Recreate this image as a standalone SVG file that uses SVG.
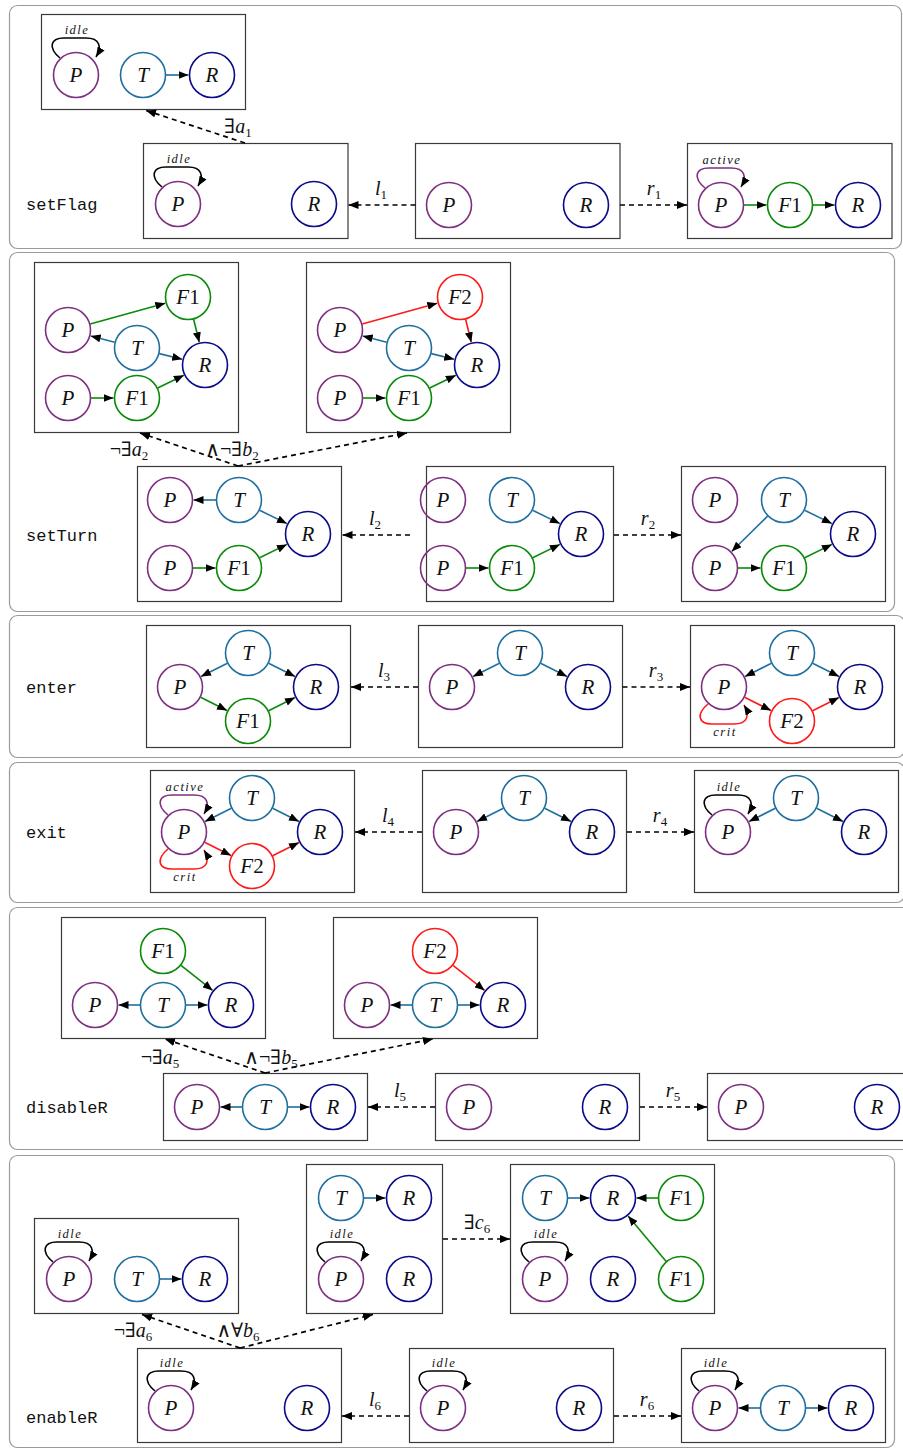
<svg xmlns="http://www.w3.org/2000/svg" width="903" height="1450" viewBox="0 0 903 1450">
<defs>
<marker id="a" viewBox="0 0 10 8" refX="10" refY="4" markerWidth="10" markerHeight="8" markerUnits="userSpaceOnUse" orient="auto"><path d="M0,0 L10,4 L0,8 z" fill="#000"/></marker>
<style>
.sec{fill:none;stroke:#9a9a9a;stroke-width:1.2}
.box{fill:none;stroke:#3a3a3a;stroke-width:1.2}
circle{fill:none;stroke-width:1.6}
.p{stroke:#7e2f80}.t{stroke:#1f6fa0}.r{stroke:#0a0a8a}.g{stroke:#0a8a0a}.f2{stroke:#ff1a1a}
.nl{font-family:"Liberation Serif","DejaVu Serif",serif;font-style:italic;font-size:21px;text-anchor:middle;fill:#111}
.up{font-style:normal}
.e{fill:none;stroke-width:1.6;marker-end:url(#a)}
.eb{stroke:#1f6fa0}.eg{stroke:#0a8a0a}.er{stroke:#ff1a1a}.ek{stroke:#000}.ep{stroke:#7e2f80}
.d{fill:none;stroke:#000;stroke-width:1.7;stroke-dasharray:5 4;marker-end:url(#a)}
.lab{font-family:"Liberation Serif","DejaVu Serif",serif;font-size:20px;fill:#111;text-anchor:middle}
.it{font-style:italic}
.sub{font-size:13px}
.st{font-family:"Liberation Serif","DejaVu Serif",serif;font-style:italic;font-size:12.5px;letter-spacing:1.5px;text-anchor:middle;fill:#111}
.mono{font-family:"Liberation Mono","DejaVu Sans Mono",monospace;font-size:17px;fill:#111}
</style>
</defs>

<!-- ===== Section 1: setFlag ===== -->
<rect class="sec" x="9.5" y="5.5" width="892" height="243" rx="8"/>
<text class="mono" x="26" y="210">setFlag</text>
<g id="sf-ac">
<rect class="box" x="41.5" y="14.5" width="204" height="95"/>
<path class="e ek" d="M60,58 C48,48 50,38 64,38 L86,38 C100,38 102,47 96,57"/>
<text class="st" x="77" y="34">idle</text>
<circle class="p" cx="76" cy="75" r="22.5"/><text class="nl" x="76" y="82">P</text>
<circle class="t" cx="143" cy="75" r="22.5"/><text class="nl" x="143" y="82">T</text>
<circle class="r" cx="212" cy="75" r="22.5"/><text class="nl" x="212" y="82">R</text>
<path class="e eb" d="M166,75 L188.5,75"/>
</g>
<g id="sf-l">
<rect class="box" x="143.5" y="143.5" width="204.5" height="95"/>
<path class="e ek" d="M162,187 C150,177 152,167 166,167 L188,167 C202,167 204,176 198,186"/>
<text class="st" x="179" y="163">idle</text>
<circle class="p" cx="178" cy="204" r="22.5"/><text class="nl" x="178" y="211">P</text>
<circle class="r" cx="314" cy="204" r="22.5"/><text class="nl" x="314" y="211">R</text>
</g>
<g id="sf-k">
<rect class="box" x="415.5" y="143.5" width="204.5" height="95"/>
<circle class="p" cx="449" cy="205" r="22.5"/><text class="nl" x="449" y="212">P</text>
<circle class="r" cx="586" cy="205" r="22.5"/><text class="nl" x="586" y="212">R</text>
</g>
<g id="sf-r">
<rect class="box" x="687.5" y="143.5" width="204.5" height="95"/>
<path class="e ep" d="M705,188 C693,178 695,168 709,168 L731,168 C745,168 747,177 741,187"/>
<text class="st" x="722" y="164">active</text>
<circle class="p" cx="721" cy="205" r="22.5"/><text class="nl" x="721" y="212">P</text>
<circle class="g" cx="790" cy="205" r="22.5"/><text class="nl" x="790" y="212">F<tspan class="up">1</tspan></text>
<circle class="r" cx="858" cy="205" r="22.5"/><text class="nl" x="858" y="212">R</text>
<path class="e eg" d="M744,205 L766.5,205"/>
<path class="e eg" d="M813,205 L834.5,205"/>
</g>

<!-- ===== Section 2: setTurn ===== -->
<rect class="sec" x="9.5" y="252.5" width="885" height="359" rx="8"/>
<text class="mono" x="26" y="541">setTurn</text>
<g id="st-a">
<rect class="box" x="34.5" y="262.5" width="204" height="170"/>
<circle class="p" cx="68" cy="330" r="22.5"/><text class="nl" x="68" y="337">P</text>
<circle class="g" cx="188" cy="297" r="22.5"/><text class="nl" x="188" y="304">F<tspan class="up">1</tspan></text>
<circle class="t" cx="137" cy="348" r="22.5"/><text class="nl" x="137" y="355">T</text>
<circle class="r" cx="205" cy="365" r="22.5"/><text class="nl" x="205" y="372">R</text>
<circle class="p" cx="68" cy="398" r="22.5"/><text class="nl" x="68" y="405">P</text>
<circle class="g" cx="137" cy="398" r="22.5"/><text class="nl" x="137" y="405">F<tspan class="up">1</tspan></text>
<path class="e eg" d="M90.2,323.9 L165.3,303.2"/>
<path class="e eg" d="M193.6,319.3 L199.3,342.2"/>
<path class="e eb" d="M114.7,342.2 L90.7,335.9"/>
<path class="e eb" d="M159.3,353.6 L182.2,359.3"/>
<path class="e eg" d="M91,398 L113.5,398"/>
<path class="e eg" d="M157.7,388 L183.9,375.2"/>
</g>
<g id="st-b" transform="translate(272,0)">
<rect class="box" x="34.5" y="262.5" width="204" height="170"/>
<circle class="p" cx="68" cy="330" r="22.5"/><text class="nl" x="68" y="337">P</text>
<circle class="f2" cx="188" cy="297" r="22.5"/><text class="nl" x="188" y="304">F<tspan class="up">2</tspan></text>
<circle class="t" cx="137" cy="348" r="22.5"/><text class="nl" x="137" y="355">T</text>
<circle class="r" cx="205" cy="365" r="22.5"/><text class="nl" x="205" y="372">R</text>
<circle class="p" cx="68" cy="398" r="22.5"/><text class="nl" x="68" y="405">P</text>
<circle class="g" cx="137" cy="398" r="22.5"/><text class="nl" x="137" y="405">F<tspan class="up">1</tspan></text>
<path class="e er" d="M90.2,323.9 L165.3,303.2"/>
<path class="e er" d="M193.6,319.3 L199.3,342.2"/>
<path class="e eb" d="M114.7,342.2 L90.7,335.9"/>
<path class="e eb" d="M159.3,353.6 L182.2,359.3"/>
<path class="e eg" d="M91,398 L113.5,398"/>
<path class="e eg" d="M157.7,388 L183.9,375.2"/>
</g>
<g id="st-l">
<rect class="box" x="137.5" y="466.5" width="204" height="135"/>
<circle class="p" cx="170" cy="500" r="22.5"/><text class="nl" x="170" y="507">P</text>
<circle class="t" cx="239" cy="500" r="22.5"/><text class="nl" x="239" y="507">T</text>
<circle class="r" cx="308" cy="534" r="22.5"/><text class="nl" x="308" y="541">R</text>
<circle class="p" cx="170" cy="568" r="22.5"/><text class="nl" x="170" y="575">P</text>
<circle class="g" cx="239" cy="568" r="22.5"/><text class="nl" x="239" y="575">F<tspan class="up">1</tspan></text>
<path class="e eb" d="M216,500 L193.5,500"/>
<path class="e eb" d="M259.6,510.2 L286.9,523.6"/>
<path class="e eg" d="M193,568 L215.5,568"/>
<path class="e eg" d="M259.6,557.8 L286.9,544.4"/>
</g>
<g id="st-k">
<rect class="box" x="426.5" y="466.5" width="187" height="135"/>
<g transform="translate(273,0)">
<circle class="p" cx="170" cy="500" r="22.5"/><text class="nl" x="170" y="507">P</text>
<circle class="t" cx="239" cy="500" r="22.5"/><text class="nl" x="239" y="507">T</text>
<circle class="r" cx="308" cy="534" r="22.5"/><text class="nl" x="308" y="541">R</text>
<circle class="p" cx="170" cy="568" r="22.5"/><text class="nl" x="170" y="575">P</text>
<circle class="g" cx="239" cy="568" r="22.5"/><text class="nl" x="239" y="575">F<tspan class="up">1</tspan></text>
<path class="e eb" d="M259.6,510.2 L286.9,523.6"/>
<path class="e eg" d="M193,568 L215.5,568"/>
<path class="e eg" d="M259.6,557.8 L286.9,544.4"/>
</g>
</g>
<g id="st-r">
<rect class="box" x="681.5" y="466.5" width="204" height="135"/>
<g transform="translate(545,0)">
<circle class="p" cx="170" cy="500" r="22.5"/><text class="nl" x="170" y="507">P</text>
<circle class="t" cx="239" cy="500" r="22.5"/><text class="nl" x="239" y="507">T</text>
<circle class="r" cx="308" cy="534" r="22.5"/><text class="nl" x="308" y="541">R</text>
<circle class="p" cx="170" cy="568" r="22.5"/><text class="nl" x="170" y="575">P</text>
<circle class="g" cx="239" cy="568" r="22.5"/><text class="nl" x="239" y="575">F<tspan class="up">1</tspan></text>
<path class="e eb" d="M259.6,510.2 L286.9,523.6"/>
<path class="e eb" d="M222.6,516.1 L186.7,551.5"/>
<path class="e eg" d="M193,568 L215.5,568"/>
<path class="e eg" d="M259.6,557.8 L286.9,544.4"/>
</g>
</g>

<!-- ===== Section 3: enter ===== -->
<rect class="sec" x="9.5" y="615.5" width="895" height="142" rx="8"/>
<text class="mono" x="26" y="693">enter</text>
<g id="en-l">
<rect class="box" x="146.5" y="625.5" width="204" height="122"/>
<circle class="t" cx="248" cy="653" r="22.5"/><text class="nl" x="248" y="660">T</text>
<circle class="p" cx="180" cy="687" r="22.5"/><text class="nl" x="180" y="694">P</text>
<circle class="r" cx="316" cy="687" r="22.5"/><text class="nl" x="316" y="694">R</text>
<circle class="g" cx="248" cy="721" r="22.5"/><text class="nl" x="248" y="728">F<tspan class="up">1</tspan></text>
<path class="e eb" d="M227.4,663.3 L201,676.5"/>
<path class="e eb" d="M268.6,663.3 L295,676.5"/>
<path class="e eg" d="M200.6,697.3 L227,710.5"/>
<path class="e eg" d="M268.6,710.7 L295,697.5"/>
</g>
<g id="en-k">
<rect class="box" x="418.5" y="625.5" width="204" height="122"/>
<g transform="translate(272,0)">
<circle class="t" cx="248" cy="653" r="22.5"/><text class="nl" x="248" y="660">T</text>
<circle class="p" cx="180" cy="687" r="22.5"/><text class="nl" x="180" y="694">P</text>
<circle class="r" cx="316" cy="687" r="22.5"/><text class="nl" x="316" y="694">R</text>
<path class="e eb" d="M227.4,663.3 L201,676.5"/>
<path class="e eb" d="M268.6,663.3 L295,676.5"/>
</g>
</g>
<g id="en-r">
<rect class="box" x="690.5" y="625.5" width="204" height="122"/>
<g transform="translate(544,0)">
<circle class="t" cx="248" cy="653" r="22.5"/><text class="nl" x="248" y="660">T</text>
<circle class="p" cx="180" cy="687" r="22.5"/><text class="nl" x="180" y="694">P</text>
<circle class="r" cx="316" cy="687" r="22.5"/><text class="nl" x="316" y="694">R</text>
<circle class="f2" cx="248" cy="721" r="22.5"/><text class="nl" x="248" y="728">F<tspan class="up">2</tspan></text>
<path class="e eb" d="M227.4,663.3 L201,676.5"/>
<path class="e eb" d="M268.6,663.3 L295,676.5"/>
<path class="e er" d="M200.6,697.3 L227,710.5"/>
<path class="e er" d="M268.6,710.7 L295,697.5"/>
<path class="e er" d="M164,704 C152,714 154,724 168,724 L190,724 C204,724 206,715 200,705"/>
<text class="st" x="181" y="736">crit</text>
</g>
</g>

<!-- ===== Section 4: exit ===== -->
<rect class="sec" x="9.5" y="762.5" width="895" height="140" rx="8"/>
<text class="mono" x="26" y="838">exit</text>
<g id="ex-l" transform="translate(4,145)">
<rect class="box" x="146.5" y="625.5" width="204" height="122"/>
<circle class="t" cx="248" cy="653" r="22.5"/><text class="nl" x="248" y="660">T</text>
<circle class="p" cx="180" cy="687" r="22.5"/><text class="nl" x="180" y="694">P</text>
<circle class="r" cx="316" cy="687" r="22.5"/><text class="nl" x="316" y="694">R</text>
<circle class="f2" cx="248" cy="721" r="22.5"/><text class="nl" x="248" y="728">F<tspan class="up">2</tspan></text>
<path class="e eb" d="M227.4,663.3 L201,676.5"/>
<path class="e eb" d="M268.6,663.3 L295,676.5"/>
<path class="e er" d="M200.6,697.3 L227,710.5"/>
<path class="e er" d="M268.6,710.7 L295,697.5"/>
<path class="e ep" d="M164,670 C152,660 154,650 168,650 L190,650 C204,650 206,659 200,669"/>
<text class="st" x="181" y="646">active</text>
<path class="e er" d="M164,704 C152,714 154,724 168,724 L190,724 C204,724 206,715 200,705"/>
<text class="st" x="181" y="736">crit</text>
</g>
<g id="ex-k" transform="translate(276,145)">
<rect class="box" x="146.5" y="625.5" width="204" height="122"/>
<circle class="t" cx="248" cy="653" r="22.5"/><text class="nl" x="248" y="660">T</text>
<circle class="p" cx="180" cy="687" r="22.5"/><text class="nl" x="180" y="694">P</text>
<circle class="r" cx="316" cy="687" r="22.5"/><text class="nl" x="316" y="694">R</text>
<path class="e eb" d="M227.4,663.3 L201,676.5"/>
<path class="e eb" d="M268.6,663.3 L295,676.5"/>
</g>
<g id="ex-r" transform="translate(548,145)">
<rect class="box" x="146.5" y="625.5" width="204" height="122"/>
<circle class="t" cx="248" cy="653" r="22.5"/><text class="nl" x="248" y="660">T</text>
<circle class="p" cx="180" cy="687" r="22.5"/><text class="nl" x="180" y="694">P</text>
<circle class="r" cx="316" cy="687" r="22.5"/><text class="nl" x="316" y="694">R</text>
<path class="e eb" d="M227.4,663.3 L201,676.5"/>
<path class="e eb" d="M268.6,663.3 L295,676.5"/>
<path class="e ek" d="M164,670 C152,660 154,650 168,650 L190,650 C204,650 206,659 200,669"/>
<text class="st" x="181" y="646">idle</text>
</g>

<!-- ===== Section 5: disableR ===== -->
<rect class="sec" x="9.5" y="907.5" width="905" height="242" rx="8"/>
<text class="mono" x="26" y="1113">disableR</text>
<g id="dr-a">
<rect class="box" x="61.5" y="917.5" width="204" height="121"/>
<circle class="g" cx="163" cy="951" r="22.5"/><text class="nl" x="163" y="958">F<tspan class="up">1</tspan></text>
<circle class="p" cx="95" cy="1005" r="22.5"/><text class="nl" x="95" y="1012">P</text>
<circle class="t" cx="163" cy="1005" r="22.5"/><text class="nl" x="163" y="1012">T</text>
<circle class="r" cx="231" cy="1005" r="22.5"/><text class="nl" x="231" y="1012">R</text>
<path class="e eg" d="M181,965.3 L212.6,990.4"/>
<path class="e eb" d="M140,1005 L118.5,1005"/>
<path class="e eb" d="M186,1005 L207.5,1005"/>
</g>
<g id="dr-b" transform="translate(272,0)">
<rect class="box" x="61.5" y="917.5" width="204" height="121"/>
<circle class="f2" cx="163" cy="951" r="22.5"/><text class="nl" x="163" y="958">F<tspan class="up">2</tspan></text>
<circle class="p" cx="95" cy="1005" r="22.5"/><text class="nl" x="95" y="1012">P</text>
<circle class="t" cx="163" cy="1005" r="22.5"/><text class="nl" x="163" y="1012">T</text>
<circle class="r" cx="231" cy="1005" r="22.5"/><text class="nl" x="231" y="1012">R</text>
<path class="e er" d="M181,965.3 L212.6,990.4"/>
<path class="e eb" d="M140,1005 L118.5,1005"/>
<path class="e eb" d="M186,1005 L207.5,1005"/>
</g>
<g id="dr-l">
<rect class="box" x="163.5" y="1073.5" width="204" height="67"/>
<circle class="p" cx="197" cy="1107" r="22.5"/><text class="nl" x="197" y="1114">P</text>
<circle class="t" cx="265" cy="1107" r="22.5"/><text class="nl" x="265" y="1114">T</text>
<circle class="r" cx="333" cy="1107" r="22.5"/><text class="nl" x="333" y="1114">R</text>
<path class="e eb" d="M242,1107 L220.5,1107"/>
<path class="e eb" d="M288,1107 L309.5,1107"/>
</g>
<g id="dr-k">
<rect class="box" x="435.5" y="1073.5" width="204" height="67"/>
<circle class="p" cx="469" cy="1107" r="22.5"/><text class="nl" x="469" y="1114">P</text>
<circle class="r" cx="605" cy="1107" r="22.5"/><text class="nl" x="605" y="1114">R</text>
</g>
<g id="dr-r">
<rect class="box" x="707.5" y="1073.5" width="204" height="67"/>
<circle class="p" cx="741" cy="1107" r="22.5"/><text class="nl" x="741" y="1114">P</text>
<circle class="r" cx="877" cy="1107" r="22.5"/><text class="nl" x="877" y="1114">R</text>
</g>

<!-- ===== Section 6: enableR ===== -->
<rect class="sec" x="9.5" y="1155.5" width="885" height="292" rx="8"/>
<text class="mono" x="26" y="1423">enableR</text>
<g id="er-a">
<rect class="box" x="34.5" y="1218.5" width="204" height="95"/>
<path class="e ek" d="M53,1262 C41,1252 43,1242 57,1242 L79,1242 C93,1242 95,1251 89,1261"/>
<text class="st" x="70" y="1238">idle</text>
<circle class="p" cx="69" cy="1279" r="22.5"/><text class="nl" x="69" y="1286">P</text>
<circle class="t" cx="137" cy="1279" r="22.5"/><text class="nl" x="137" y="1286">T</text>
<circle class="r" cx="205" cy="1279" r="22.5"/><text class="nl" x="205" y="1286">R</text>
<path class="e eb" d="M160,1279 L181.5,1279"/>
</g>
<g id="er-b">
<rect class="box" x="306.5" y="1164.5" width="136" height="149"/>
<circle class="t" cx="341" cy="1198" r="22.5"/><text class="nl" x="341" y="1205">T</text>
<circle class="r" cx="409" cy="1198" r="22.5"/><text class="nl" x="409" y="1205">R</text>
<path class="e eb" d="M364,1198 L385.5,1198"/>
<path class="e ek" d="M325,1262 C313,1252 315,1242 329,1242 L351,1242 C365,1242 367,1251 361,1261"/>
<text class="st" x="342" y="1238">idle</text>
<circle class="p" cx="341" cy="1279" r="22.5"/><text class="nl" x="341" y="1286">P</text>
<circle class="r" cx="409" cy="1279" r="22.5"/><text class="nl" x="409" y="1286">R</text>
</g>
<g id="er-c">
<rect class="box" x="510.5" y="1164.5" width="204" height="149"/>
<circle class="t" cx="545" cy="1198" r="22.5"/><text class="nl" x="545" y="1205">T</text>
<circle class="r" cx="613" cy="1198" r="22.5"/><text class="nl" x="613" y="1205">R</text>
<circle class="g" cx="681" cy="1198" r="22.5"/><text class="nl" x="681" y="1205">F<tspan class="up">1</tspan></text>
<path class="e ek" d="M529,1262 C517,1252 519,1242 533,1242 L555,1242 C569,1242 571,1251 565,1261"/>
<text class="st" x="546" y="1238">idle</text>
<circle class="p" cx="545" cy="1279" r="22.5"/><text class="nl" x="545" y="1286">P</text>
<circle class="r" cx="613" cy="1279" r="22.5"/><text class="nl" x="613" y="1286">R</text>
<circle class="g" cx="681" cy="1279" r="22.5"/><text class="nl" x="681" y="1286">F<tspan class="up">1</tspan></text>
<path class="e eb" d="M568,1198 L589.5,1198"/>
<path class="e eg" d="M658,1198 L636.5,1198"/>
<path class="e eg" d="M666.2,1261.4 L628.1,1216"/>
</g>
<g id="er-l">
<rect class="box" x="137.5" y="1348.5" width="204" height="94"/>
<path class="e ek" d="M155,1391 C143,1381 145,1371 159,1371 L181,1371 C195,1371 197,1380 191,1390"/>
<text class="st" x="172" y="1367">idle</text>
<circle class="p" cx="171" cy="1408" r="22.5"/><text class="nl" x="171" y="1415">P</text>
<circle class="r" cx="307" cy="1408" r="22.5"/><text class="nl" x="307" y="1415">R</text>
</g>
<g id="er-k">
<rect class="box" x="409.5" y="1348.5" width="204" height="94"/>
<path class="e ek" d="M427,1391 C415,1381 417,1371 431,1371 L453,1371 C467,1371 469,1380 463,1390"/>
<text class="st" x="444" y="1367">idle</text>
<circle class="p" cx="443" cy="1408" r="22.5"/><text class="nl" x="443" y="1415">P</text>
<circle class="r" cx="579" cy="1408" r="22.5"/><text class="nl" x="579" y="1415">R</text>
</g>
<g id="er-r">
<rect class="box" x="681.5" y="1348.5" width="204" height="94"/>
<path class="e ek" d="M699,1391 C687,1381 689,1371 703,1371 L725,1371 C739,1371 741,1380 735,1390"/>
<text class="st" x="716" y="1367">idle</text>
<circle class="p" cx="715" cy="1408" r="22.5"/><text class="nl" x="715" y="1415">P</text>
<circle class="t" cx="783" cy="1408" r="22.5"/><text class="nl" x="783" y="1415">T</text>
<circle class="r" cx="851" cy="1408" r="22.5"/><text class="nl" x="851" y="1415">R</text>
<path class="e eb" d="M760,1408 L738.5,1408"/>
<path class="e eb" d="M806,1408 L827.5,1408"/>
</g>

<!-- ===== Connectors ===== -->
<g id="connectors">
<path class="d" d="M415.5,205 L348.5,205"/>
<path class="d" d="M620,205 L687,205"/>
<path class="d" d="M245,143 L146,110.5"/>
<path class="d" d="M410,535 L342.5,535"/>
<path class="d" d="M614,535 L681,535"/>
<path class="d" d="M238,466 L140,433"/>
<path class="d" d="M238,466 L407,433"/>
<path class="d" d="M418,687 L351,687"/>
<path class="d" d="M622.5,687 L690,687"/>
<path class="d" d="M422,832 L355,832"/>
<path class="d" d="M627,832 L694,832"/>
<path class="d" d="M435,1107 L368,1107"/>
<path class="d" d="M640,1107 L707,1107"/>
<path class="d" d="M265,1073 L165,1039"/>
<path class="d" d="M265,1073 L433,1039"/>
<path class="d" d="M443,1239 L510,1239"/>
<path class="d" d="M409,1416 L342,1416"/>
<path class="d" d="M614,1416 L681,1416"/>
<path class="d" d="M240,1348 L142,1314.5"/>
<path class="d" d="M240,1348 L373,1314.5"/>
</g>
<g id="connector-labels">
<text class="lab" x="381" y="195"><tspan class="it">l</tspan><tspan class="sub" dy="4">1</tspan></text>
<text class="lab" x="654" y="195"><tspan class="it">r</tspan><tspan class="sub" dy="4">1</tspan></text>
<text class="lab" x="238" y="133">∃<tspan class="it">a</tspan><tspan class="sub" dy="4">1</tspan></text>
<text class="lab" x="375" y="525"><tspan class="it">l</tspan><tspan class="sub" dy="4">2</tspan></text>
<text class="lab" x="648" y="525"><tspan class="it">r</tspan><tspan class="sub" dy="4">2</tspan></text>
<text class="lab" x="129" y="456">¬∃<tspan class="it">a</tspan><tspan class="sub" dy="4">2</tspan></text>
<text class="lab" x="232" y="456">∧¬∃<tspan class="it">b</tspan><tspan class="sub" dy="4">2</tspan></text>
<text class="lab" x="384" y="677"><tspan class="it">l</tspan><tspan class="sub" dy="4">3</tspan></text>
<text class="lab" x="656" y="677"><tspan class="it">r</tspan><tspan class="sub" dy="4">3</tspan></text>
<text class="lab" x="388" y="822"><tspan class="it">l</tspan><tspan class="sub" dy="4">4</tspan></text>
<text class="lab" x="660" y="822"><tspan class="it">r</tspan><tspan class="sub" dy="4">4</tspan></text>
<text class="lab" x="400" y="1097"><tspan class="it">l</tspan><tspan class="sub" dy="4">5</tspan></text>
<text class="lab" x="673" y="1097"><tspan class="it">r</tspan><tspan class="sub" dy="4">5</tspan></text>
<text class="lab" x="160" y="1064">¬∃<tspan class="it">a</tspan><tspan class="sub" dy="4">5</tspan></text>
<text class="lab" x="271" y="1064">∧¬∃<tspan class="it">b</tspan><tspan class="sub" dy="4">5</tspan></text>
<text class="lab" x="477" y="1229">∃<tspan class="it">c</tspan><tspan class="sub" dy="4">6</tspan></text>
<text class="lab" x="375" y="1406"><tspan class="it">l</tspan><tspan class="sub" dy="4">6</tspan></text>
<text class="lab" x="647" y="1406"><tspan class="it">r</tspan><tspan class="sub" dy="4">6</tspan></text>
<text class="lab" x="133" y="1337">¬∃<tspan class="it">a</tspan><tspan class="sub" dy="4">6</tspan></text>
<text class="lab" x="238" y="1337">∧∀<tspan class="it">b</tspan><tspan class="sub" dy="4">6</tspan></text>
</g>
</svg>
